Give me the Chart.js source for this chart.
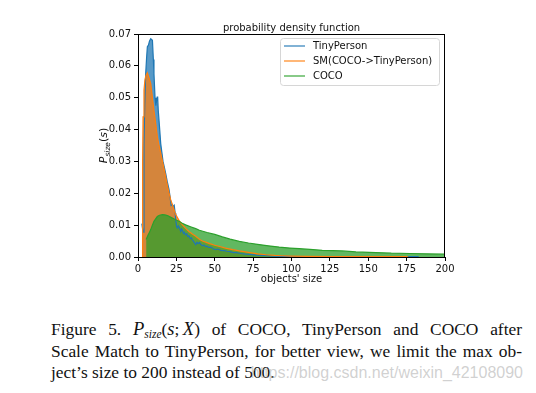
<!DOCTYPE html>
<html>
<head>
<meta charset="utf-8">
<script src="https://cdn.jsdelivr.net/npm/chart.js@4.4.1/dist/chart.umd.min.js"></script>
<style>
body { margin: 0; background: #fff; }
#wrap { position: relative; width: 536px; height: 393px; overflow: hidden; }
#chart { position: absolute; left: 0; top: 0; }
.cap { position: absolute; left: 51px; top: 319px; width: 471px; font-family: "Liberation Serif", "Times New Roman", serif; font-size: 17.4px; line-height: 21.7px; color: #111; }
.cap div { white-space: nowrap; }
.cap .j { text-align: justify; text-align-last: justify; }
.cap i.m { font-size: 18.5px; }
.cap sub { font-size: 11.5px; font-style: italic; vertical-align: -3px; line-height: 0; }
.wm { position: absolute; right: 13px; top: 364px; font-family: "Liberation Sans", Arial, sans-serif; font-size: 16px; color: rgba(170,170,170,0.55); }
</style>
</head>
<body>
<div id="wrap">
  <canvas id="chart" width="536" height="300"></canvas>
  <div class="cap">
    <div class="j">Figure 5. <i class="m">P</i><sub>size</sub>(<i class="m">s</i>;&#8201;<i class="m">X</i>) of COCO, TinyPerson and COCO after</div>
    <div class="j">Scale Match to TinyPerson, for better view, we limit the max ob-</div>
    <div>ject’s size to 200 instead of 500.</div>
  </div>
  <div class="wm">https://blog.csdn.net/weixin_42108090</div>
</div>
<script>
// series names
const seriesNames = ['TinyPerson', 'SM(COCO->TinyPerson)', 'COCO'];

// TinyPerson
const tinyX = [2.5, 3.3, 3.9, 4.4, 5.0, 5.6, 6.1, 6.8, 7.5, 8.3, 9.4, 10.0, 10.4, 11.1, 11.6, 12.0, 12.5, 12.8, 13.2, 13.7,
  14.8, 15.5, 16.3, 17.0, 18.0, 19.0, 20.2, 21.0, 21.6, 22.4, 23.0, 23.6, 24.2, 24.6, 25.2, 25.7, 26.3, 27.0, 27.8, 28.4,
  29.0, 29.6, 30.2, 31.0, 31.8, 32.5, 33.2, 34.0, 34.8, 35.4, 36.2, 37.0, 37.6, 38.4, 39.2, 40.0, 41.0, 42.0, 43.0, 44.0,
  45.0, 46.0, 47.5, 49.0, 50.6, 52.0, 54.0, 56.0, 58.0, 60.0, 62.0, 64.0, 67.0, 70.0, 73.0, 77.0, 80.0, 84.0, 88.0, 95.0,
  105, 120, 140, 160, 175, 182, 183];
const tinyY = [0.0105, 0.0078, 0.0356, 0.048, 0.0575, 0.0625, 0.066, 0.0665, 0.0678, 0.0685, 0.068, 0.062, 0.0575, 0.050,
  0.0475, 0.0487, 0.0502, 0.0504, 0.046, 0.0429, 0.0356, 0.033, 0.030, 0.0285, 0.0263, 0.0238, 0.0212, 0.0185, 0.0162,
  0.0165, 0.0158, 0.0162, 0.0138, 0.0117, 0.0095, 0.0091, 0.0098, 0.0092, 0.008, 0.0088, 0.0083, 0.0074, 0.0078, 0.007,
  0.0073, 0.0064, 0.0066, 0.0058, 0.006, 0.0054, 0.0049, 0.0043, 0.0039, 0.0046, 0.0042, 0.0046, 0.0039, 0.0035, 0.0038,
  0.0033, 0.0034, 0.003, 0.0031, 0.0026, 0.0023, 0.0025, 0.0021, 0.002, 0.0018, 0.0017, 0.0014, 0.0014, 0.0011, 0.0009,
  0.0008, 0.0006, 0.0005, 0.0004, 0.0003, 0.0002, 0.00015, 0.0001, 0.0001, 0.0001, 0.0001, 0.0001, 0];

// SM(COCO->TinyPerson)
const smX = [2.8, 3.0, 3.3, 3.9, 4.5, 5.2, 6.1, 7.0, 8.3, 9.4, 10.4, 11.5, 12.6, 13.7, 14.8, 16.4, 18.0, 19.1, 20.2, 21.3,
  22.4, 23.5, 24.6, 26.7, 28.9, 31.0, 33.2, 35.4, 37.6, 40.2, 42.0, 44.5, 46.7, 50.0, 53.2, 57.0, 61.7, 66.0, 72.8, 78.0,
  83.6, 89.0, 94.0, 100, 110, 125, 150, 175, 176];
const smY = [0, 0.030, 0.044, 0.0523, 0.0555, 0.057, 0.0578, 0.0565, 0.0544, 0.050, 0.046, 0.042, 0.0378, 0.035, 0.0326,
  0.029, 0.0253, 0.0225, 0.0201, 0.018, 0.0164, 0.0148, 0.0133, 0.0115, 0.0101, 0.009, 0.008, 0.0072, 0.0065, 0.0055,
  0.005, 0.0046, 0.0042, 0.0037, 0.0033, 0.0028, 0.0023, 0.0019, 0.0014, 0.001, 0.0007, 0.0005, 0.0004, 0.0003, 0.0002,
  0.00015, 0.0001, 0.0001, 0];

// COCO
const cocoX = [5.3, 6.5, 7.5, 8.3, 9.3, 10.4, 11.5, 12.6, 14.0, 15.9, 17.5, 19.2, 20.8, 22.4, 24.5, 26.7, 28.8, 31.0, 34.2,
  37.6, 40.0, 45, 50, 55, 60, 66, 72, 79, 85, 92, 99, 105, 112, 120, 133, 142, 155, 165, 177, 188, 200];
const cocoY = [0.0055, 0.0068, 0.0078, 0.0086, 0.0099, 0.0112, 0.012, 0.0127, 0.0131, 0.0133, 0.0132, 0.013, 0.0126,
  0.0122, 0.0117, 0.0112, 0.0106, 0.0101, 0.0095, 0.0089, 0.0084, 0.0077, 0.0071, 0.0063, 0.0056, 0.0049, 0.0044, 0.0039,
  0.0035, 0.0031, 0.0028, 0.0026, 0.0024, 0.0021, 0.0019, 0.0016, 0.0014, 0.0012, 0.0011, 0.001, 0.0009];

// axis ticks
const xTicks = [0, 25, 50, 75, 100, 125, 150, 175, 200];
const yTicks = [0, 0.01, 0.02, 0.03, 0.04, 0.05, 0.06, 0.07];

function pts(xs, ys) {
    return xs.map((x, i) => ({ x: x, y: ys[i] }));
}

const FONT = 'DejaVu Sans';

// frame, legend and y label (mathtext style)
const extras = {
    id: 'extras',
    afterDraw(chart) {
        const ctx = chart.ctx;
        const a = chart.chartArea;
        ctx.save();
        ctx.strokeStyle = '#000';
        ctx.lineWidth = 1;
        ctx.strokeRect(a.left + 0.5, a.top + 0.5, a.right - a.left - 1, a.bottom - a.top);

        // legend box
        ctx.beginPath();
        ctx.roundRect(280.5, 38.5, 159, 47, 3);
        ctx.fillStyle = 'rgba(255,255,255,0.8)';
        ctx.fill();
        ctx.strokeStyle = '#d6d6d6';
        ctx.stroke();
        ctx.font = '10px "' + FONT + '"';
        ctx.textBaseline = 'middle';
        chart.data.datasets.forEach((ds, i) => {
            const y = 46 + i * 15;
            ctx.globalAlpha = 0.75;
            ctx.strokeStyle = ds.borderColor;
            ctx.lineWidth = 1.5;
            ctx.beginPath();
            ctx.moveTo(284, y);
            ctx.lineTo(305, y);
            ctx.stroke();
            ctx.globalAlpha = 1;
            ctx.fillStyle = '#111';
            ctx.fillText(ds.label, 313, y);
        });

        // y label: P_size(s)
        ctx.translate(107, (a.top + a.bottom) / 2);
        ctx.rotate(-Math.PI / 2);
        const big = 'italic 11px "' + FONT + '"';
        const up = '11px "' + FONT + '"';
        const small = 'italic 7.5px "' + FONT + '"';
        const parts = [[big, 'P', 0], [small, 'size', 2.5], [up, '(', 0], [big, 's', 0], [up, ')', 0]];
        let w = 0;
        parts.forEach(p => { ctx.font = p[0]; w += ctx.measureText(p[1]).width; });
        let x = -w / 2;
        ctx.fillStyle = '#111';
        ctx.textBaseline = 'alphabetic';
        parts.forEach(p => {
            ctx.font = p[0];
            ctx.fillText(p[1], x, p[2]);
            x += ctx.measureText(p[1]).width;
        });
        ctx.restore();
    }
};

new Chart(document.getElementById('chart'), {
    type: 'line',
    data: {
        datasets: [
            { label: seriesNames[0], data: pts(tinyX, tinyY), borderColor: '#1f77b4',
              backgroundColor: 'rgba(31,119,180,0.75)', fill: 'origin', order: 3 },
            { label: seriesNames[1], data: pts(smX, smY), borderColor: '#ff7f0e',
              backgroundColor: 'rgba(255,127,14,0.75)', fill: 'origin', order: 2 },
            { label: seriesNames[2], data: pts(cocoX, cocoY), borderColor: '#2ca02c',
              backgroundColor: 'rgba(44,160,44,0.75)', fill: 'origin', order: 1 }
        ]
    },
    options: {
        responsive: false,
        animation: false,
        devicePixelRatio: 1,
        elements: {
            point: { radius: 0 },
            line: { borderWidth: 1.2, tension: 0 }
        },
        layout: { padding: { left: 0, right: 91, top: 0, bottom: 0 } },
        scales: {
            x: {
                type: 'linear',
                min: 0,
                max: 200,
                afterBuildTicks: s => { s.ticks = xTicks.map(v => ({ value: v })); },
                afterFit: s => { s.height = 43; },
                grid: { drawOnChartArea: false, drawTicks: true, tickLength: 4, color: '#000' },
                border: { color: '#000', width: 1 },
                ticks: { color: '#111', padding: 2, maxRotation: 0, font: { family: FONT, size: 10 } },
                title: { display: true, text: "objects' size", color: '#111',
                         font: { family: FONT, size: 10 }, padding: { top: 0, bottom: 15 } }
            },
            y: {
                min: 0,
                max: 0.07,
                afterBuildTicks: s => { s.ticks = yTicks.map(v => ({ value: v })); },
                afterFit: s => { s.width = 138; },
                grid: { drawOnChartArea: false, drawTicks: true, tickLength: 4, color: '#000' },
                border: { color: '#000', width: 1 },
                ticks: { color: '#111', padding: 3, font: { family: FONT, size: 10 },
                         callback: v => v.toFixed(2) }
            }
        },
        plugins: {
            legend: { display: false },
            tooltip: { enabled: false },
            filler: { drawTime: 'beforeDatasetsDraw' },
            title: {
                display: true,
                text: 'probability density function',
                fullSize: false,
                color: '#111',
                font: { family: FONT, size: 10, weight: 'normal' },
                padding: { top: 22, bottom: 0 }
            }
        }
    },
    plugins: [extras]
});
</script>
</body>
</html>
